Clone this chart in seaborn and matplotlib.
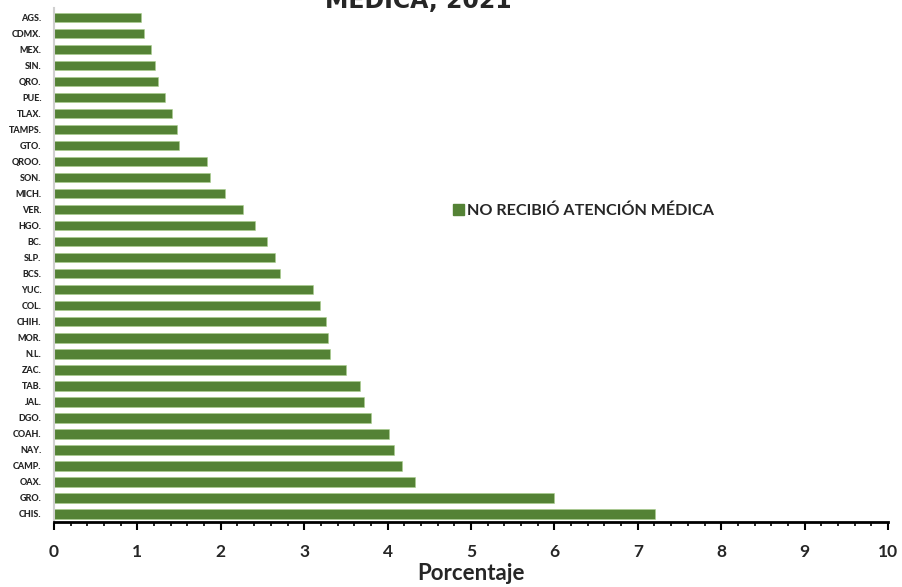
"""Bar chart: porcentaje de población que no recibió atención médica, por entidad, 2021."""

import matplotlib
matplotlib.use("Agg")
import matplotlib.pyplot as plt
from matplotlib.ticker import MultipleLocator
import matplotlib.patches as mpatches
import pandas as pd
import seaborn as sns

states = ["AGS.", "CDMX.", "MEX.", "SIN.", "QRO.", "PUE.", "TLAX.", "TAMPS.", "GTO.",
          "QROO.", "SON.", "MICH.", "VER.", "HGO.", "BC.", "SLP.", "BCS.", "YUC.",
          "COL.", "CHIH.", "MOR.", "N.L.", "ZAC.", "TAB.", "JAL.", "DGO.", "COAH.",
          "NAY.", "CAMP.", "OAX.", "GRO.", "CHIS."]
pct = [1.04, 1.08, 1.16, 1.21, 1.25, 1.33, 1.41, 1.47, 1.50,
       1.83, 1.87, 2.05, 2.27, 2.41, 2.55, 2.65, 2.71, 3.11,
       3.19, 3.26, 3.29, 3.31, 3.50, 3.67, 3.72, 3.80, 4.02,
       4.08, 4.17, 4.33, 5.99, 7.21]
series_name = "NO RECIBIÓ ATENCIÓN MÉDICA"

GREEN = "#548235"

sns.set_theme(style="white")
plt.rcParams["font.family"] = ["Lato", "DejaVu Sans"]

df = pd.DataFrame({"estado": states, "pct": pct})

fig = plt.figure(figsize=(9.02, 5.87), dpi=100)
ax = fig.add_axes([54 / 902, 1 - 522 / 587, (888 - 54) / 902, (522 - 8) / 587])

sns.barplot(data=df, y="estado", x="pct", orient="h", color=GREEN,
            saturation=1, width=0.58, ax=ax, edgecolor="#a9d08e", linewidth=0.4)

ax.set_xlim(0, 10)
ax.set_ylim(len(states) - 0.5, -0.6)
ax.xaxis.set_major_locator(MultipleLocator(1))
ax.xaxis.set_minor_locator(MultipleLocator(0.2))
ax.tick_params(axis="x", which="major", direction="out", length=6, width=1.5,
               color="black", labelsize=12.5, pad=10, bottom=True)
ax.tick_params(axis="x", which="minor", direction="out", length=3, width=1.2,
               color="black", bottom=True)
ax.tick_params(axis="y", length=0, labelsize=6.5, pad=9)
for lbl in ax.get_xticklabels():
    lbl.set_fontweight("bold")
for lbl in ax.get_yticklabels():
    lbl.set_fontweight("black")

for side in ["top", "right"]:
    ax.spines[side].set_visible(False)
ax.spines["bottom"].set_color("black")
ax.spines["bottom"].set_linewidth(2)
ax.spines["left"].set_color("#d0d0d0")
ax.spines["left"].set_linewidth(1.5)

ax.set_ylabel("")
ax.set_xlabel("Porcentaje", fontsize=16, fontweight="bold", labelpad=2)

handle = mpatches.Patch(color=GREEN, label=series_name)
ax.legend(handles=[handle], loc="center left", bbox_to_anchor=(0.461, 0.605),
          frameon=False, handlelength=0.7, handleheight=0.7, handletextpad=0.2,
          prop={"weight": "bold", "size": 11.6})

# title block, only its last line shows at the top edge
fig.text(418 / 902, 1.0, "MÉDICA, 2021", ha="center", va="center",
         fontsize=17, fontweight="bold", family=["DejaVu Sans"])

fig.savefig("out.png", dpi=100)
